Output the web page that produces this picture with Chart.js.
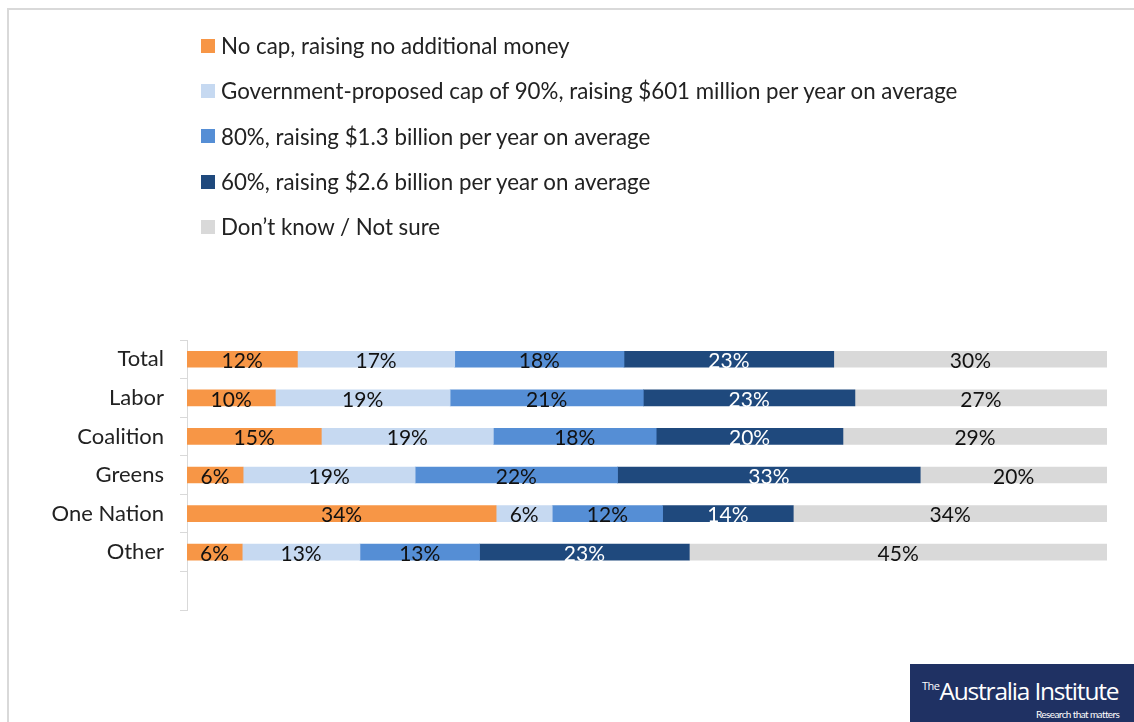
<!DOCTYPE html>
<html>
<head>
    <title>Revenue cap preference by party</title>
    <script src="https://cdn.jsdelivr.net/npm/chart.js@4.4.1/dist/chart.umd.min.js"></script>
    <style>
        body {
            margin: 0;
            width: 1134px;
            height: 722px;
            overflow: hidden;
            background-color: white;
            font-family: Lato, "Open Sans", sans-serif;
        }
        .frame {
            position: absolute;
            left: 7px;
            top: 8px;
            right: -10px;
            bottom: -10px;
            border-left: 2px solid #d9d9d9;
            border-top: 2px solid #d9d9d9;
        }
        .chart-box {
            position: absolute;
            left: 0;
            top: 0;
            width: 1134px;
            height: 722px;
        }
        #legend {
            position: absolute;
            left: 201px;
            top: 23px;
            margin: 0;
            padding: 0;
            list-style: none;
        }
        #legend li {
            height: 45.3px;
            display: flex;
            align-items: center;
            font-size: 22.3px;
            color: #222;
            white-space: nowrap;
        }
        #legend .swatch {
            display: inline-block;
            width: 14px;
            height: 14px;
            margin-right: 6px;
        }
        .logo {
            position: absolute;
            left: 910px;
            top: 664px;
            width: 240px;
            height: 60px;
            background-color: #1f3163;
            color: white;
        }
        .logo .name {
            position: absolute;
            left: 12px;
            top: 10px;
            font-family: "Open Sans", sans-serif;
            font-size: 24.5px;
            letter-spacing: -1.2px;
        }
        .logo .name sup {
            font-size: 11px;
            letter-spacing: -0.5px;
            vertical-align: 10px;
        }
        .logo .tag {
            position: absolute;
            left: 126px;
            top: 44px;
            font-size: 10px;
            letter-spacing: -0.6px;
        }
    </style>
</head>
<body>
    <div class="frame"></div>
    <div class="chart-box">
        <canvas id="myChart"></canvas>
    </div>
    <ul id="legend"></ul>
    <div class="logo">
        <div class="name"><sup>The</sup>Australia Institute</div>
        <div class="tag">Research that matters</div>
    </div>

    <script>
        const categories = ['Total', 'Labor', 'Coalition', 'Greens', 'One Nation', 'Other', ''];

        const seriesNames = [
            'No cap, raising no additional money',
            'Government-proposed cap of 90%, raising $601 million per year on average',
            '80%, raising $1.3 billion per year on average',
            '60%, raising $2.6 billion per year on average',
            'Don\u2019t know / Not sure'
        ];

        const noCap = [12.0, 9.6, 14.6, 6.1, 33.6, 6.0];
        const cap90 = [17.1, 19.0, 18.7, 18.7, 6.1, 12.8];
        const cap80 = [18.4, 21.0, 17.7, 22.0, 12.0, 13.0];
        const cap60 = [22.8, 23.0, 20.3, 32.9, 14.2, 22.8];
        const dontKnow = [29.7, 27.4, 28.7, 20.3, 34.1, 45.4];

        const colors = ['#f79646', '#c6d9f1', '#558ed5', '#1f497d', '#d9d9d9'];
        const labelColors = ['#111', '#111', '#111', '#ffffff', '#111'];

        const allSeries = [noCap, cap90, cap80, cap60, dontKnow];

        // draw the percentage inside each segment
        const segmentLabels = {
            id: 'segmentLabels',
            afterDatasetsDraw(chart) {
                const ctx = chart.ctx;
                ctx.save();
                ctx.font = '21px Lato, "Open Sans", sans-serif';
                ctx.textAlign = 'center';
                ctx.textBaseline = 'middle';
                chart.data.datasets.forEach((ds, i) => {
                    const meta = chart.getDatasetMeta(i);
                    meta.data.forEach((bar, j) => {
                        const v = ds.data[j];
                        if (v == null) return;
                        ctx.fillStyle = labelColors[i];
                        ctx.fillText(Math.round(v) + '%', (bar.x + bar.base) / 2, bar.y + 2);
                    });
                });
                ctx.restore();
            }
        };

        const ctx = document.getElementById('myChart').getContext('2d');
        const chart = new Chart(ctx, {
            type: 'bar',
            data: {
                labels: categories,
                datasets: allSeries.map((data, i) => ({
                    label: seriesNames[i],
                    data: data,
                    backgroundColor: colors[i],
                    borderWidth: 0,
                    barThickness: 16
                }))
            },
            options: {
                indexAxis: 'y',
                responsive: true,
                maintainAspectRatio: false,
                animation: false,
                layout: {
                    padding: { top: 340, right: 27, bottom: 112, left: 0 }
                },
                scales: {
                    x: {
                        stacked: true,
                        display: false,
                        min: 0,
                        max: 100
                    },
                    y: {
                        stacked: true,
                        afterFit(scale) {
                            scale.width = 187;
                        },
                        grid: {
                            drawOnChartArea: false,
                            color: '#d9d9d9',
                            tickLength: 7,
                            offset: true
                        },
                        border: {
                            display: true,
                            color: '#d9d9d9',
                            width: 1
                        },
                        ticks: {
                            padding: 16,
                            color: '#222',
                            font: { family: 'Lato, "Open Sans", sans-serif', size: 22 }
                        }
                    }
                },
                plugins: {
                    legend: { display: false },
                    tooltip: { enabled: false }
                }
            },
            plugins: [segmentLabels]
        });

        // legend as a list, one entry per line
        const legendEl = document.getElementById('legend');
        chart.data.datasets.forEach(ds => {
            const li = document.createElement('li');
            const sw = document.createElement('span');
            sw.className = 'swatch';
            sw.style.backgroundColor = ds.backgroundColor;
            li.appendChild(sw);
            li.appendChild(document.createTextNode(ds.label));
            legendEl.appendChild(li);
        });
    </script>
</body>
</html>
